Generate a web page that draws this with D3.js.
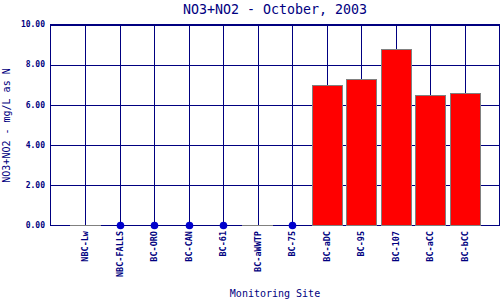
<!DOCTYPE html>
<html>
<head>
<meta charset="utf-8">
<script src="https://cdn.jsdelivr.net/npm/d3@7"></script>
<style>
  body { margin: 0; background: #fff; }
  svg { display: block; }
  text { font-family: "DejaVu Sans Mono", "Liberation Mono", monospace; fill: #000080; }
</style>
</head>
<body>
<svg id="chart" width="500" height="300"></svg>
<script>
const sites = ["NBC-Lw","NBC-FALLS","BC-ORO","BC-CAN","BC-61","BC-aWWTP","BC-75","BC-aDC","BC-95","BC-107","BC-aCC","BC-bCC"];
const values = [null, 0, 0, 0, 0, null, 0, 7.0, 7.3, 8.8, 6.5, 6.6];
const yTicks = [0, 2, 4, 6, 8, 10];
const title = "NO3+NO2 - October, 2003";
const yTitle = "NO3+NO2 - mg/L as N";
const xTitle = "Monitoring Site";

(function () {
const svg = d3.select("#chart");
const pl = 50.5, pr = 499.5, pt = 24.5, pb = 225;
const navy = "#000080";

const x = d3.scalePoint().domain(sites).range([pl, pr]).padding(1);
const y = d3.scaleLinear().domain([0, 10]).range([pb, pt]);
const barW = 30;

// horizontal grid
svg.append("g").selectAll("line").data(yTicks).join("line")
  .attr("x1", pl).attr("x2", pr)
  .attr("y1", d => Math.round(y(d)) + 0.5).attr("y2", d => Math.round(y(d)) + 0.5)
  .attr("stroke", navy).attr("stroke-width", 1);

// vertical grid at category centers
svg.append("g").selectAll("line").data(sites).join("line")
  .attr("x1", d => Math.round(x(d)) + 0.5).attr("x2", d => Math.round(x(d)) + 0.5)
  .attr("y1", pt).attr("y2", pb)
  .attr("stroke", navy).attr("stroke-width", 1);

// frame
svg.append("rect").attr("x", pl).attr("y", pt)
  .attr("width", pr - pl).attr("height", Math.round(pb) + 0.5 - pt)
  .attr("fill", "none").attr("stroke", navy).attr("stroke-width", 1);

const data = sites.map((s, i) => ({ site: s, value: values[i] }));

// bars (positive values)
svg.append("g").selectAll("rect").data(data.filter(d => d.value > 0)).join("rect")
  .attr("x", d => Math.round(x(d.site) - barW / 2) + 0.5)
  .attr("y", d => Math.round(y(d.value)) + 0.5)
  .attr("width", barW)
  .attr("height", d => Math.round(pb) - Math.round(y(d.value)))
  .attr("fill", "#ff0000").attr("stroke", "#808080").attr("stroke-width", 1);

// missing values: zero-height grey bar outline on baseline
svg.append("g").selectAll("line").data(data.filter(d => d.value === null)).join("line")
  .attr("x1", d => Math.round(x(d.site) - barW / 2 - 0.5))
  .attr("x2", d => Math.round(x(d.site) + barW / 2 + 0.5))
  .attr("y1", Math.round(pb) + 0.5).attr("y2", Math.round(pb) + 0.5)
  .attr("stroke", "#808080").attr("stroke-width", 1);

// zero values: blue dots
svg.append("g").selectAll("circle").data(data.filter(d => d.value === 0)).join("circle")
  .attr("cx", d => Math.round(x(d.site)) + 0.5)
  .attr("cy", d => Math.round(y(d.value)) + 0.5)
  .attr("r", 3.8)
  .attr("fill", "#0000cc");

// y tick labels
svg.append("g").selectAll("text").data(yTicks).join("text")
  .attr("x", 45).attr("y", d => y(d))
  .attr("dy", "0.35em")
  .attr("text-anchor", "end")
  .style("font-size", "8px").style("font-weight", "bold")
  .text(d => d3.format(".2f")(d));

// x tick labels
svg.append("g").selectAll("text").data(sites).join("text")
  .attr("transform", d => `translate(${Math.round(x(d)) + 0.5},231) rotate(-90)`)
  .attr("dy", "0.35em")
  .attr("text-anchor", "end")
  .style("font-size", "8.5px").style("font-weight", "bold")
  .text(d => d);

// title
svg.append("text").attr("x", (pl + pr) / 2).attr("y", 14)
  .attr("text-anchor", "middle").style("font-size", "13.3px").text(title);

// y title
svg.append("text")
  .attr("transform", `translate(10,${(69 + 182) / 2}) rotate(-90)`)
  .attr("text-anchor", "middle").style("font-size", "10px").text(yTitle);

// x title
svg.append("text").attr("x", (pl + pr) / 2).attr("y", 297)
  .attr("text-anchor", "middle").style("font-size", "10px").text(xTitle);
})();
</script>
</body>
</html>
